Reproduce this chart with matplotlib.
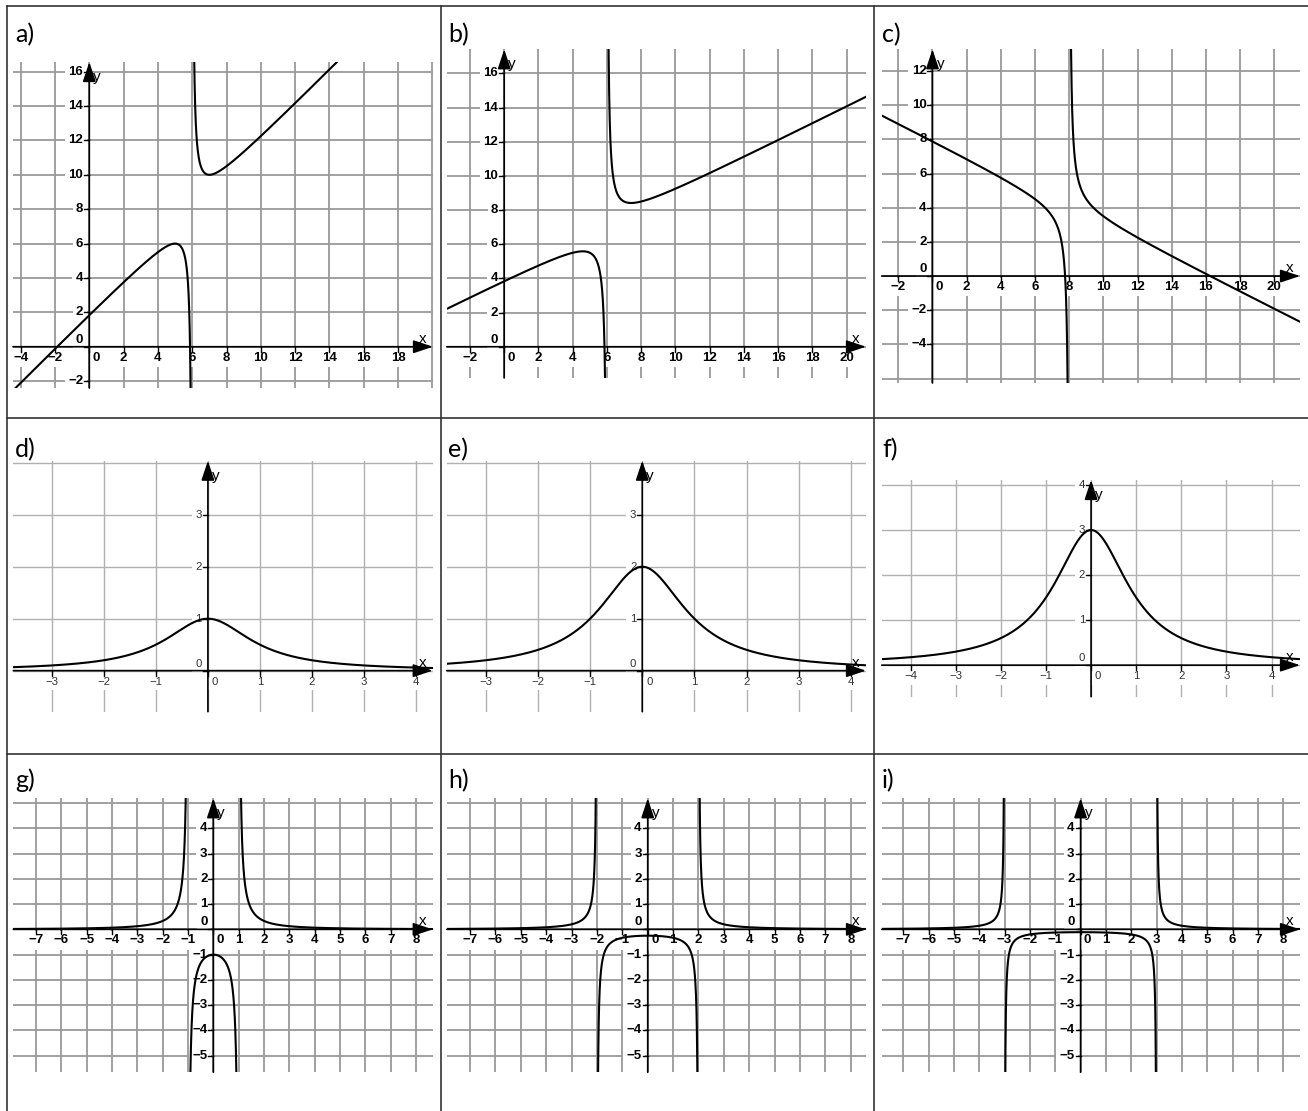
import numpy as np
import matplotlib.pyplot as plt
from matplotlib.lines import Line2D

W, H = 1308, 1111

# a) - c): y = m*x + n + 1/(x - p)   (Extrempunkte aus dem Bild abgelesen)
slopes = [1.0, 0.5, -0.5]
intercepts = [2.0, 4.0, 8.0]
poles_abc = [6.0, 6.0, 8.0]
# d) - f): y = k / (1 + x^2)
bell_heights = [1.0, 2.0, 3.0]
# g) - i): y = 1 / (x^2 - p^2)
poles_ghi = [1.0, 2.0, 3.0]

panel_names = ['a)', 'b)', 'c)', 'd)', 'e)', 'f)', 'g)', 'h)', 'i)']
x_ticks = [list(range(-4, 19, 2)), list(range(-2, 21, 2)), list(range(-2, 21, 2)),
           list(range(-3, 5)), list(range(-3, 5)), list(range(-4, 5)),
           list(range(-7, 9)), list(range(-7, 9)), list(range(-7, 9))]
y_ticks = [list(range(-2, 17, 2)), list(range(0, 17, 2)), list(range(-4, 13, 2)),
           list(range(0, 4)), list(range(0, 4)), list(range(0, 5)),
           list(range(-5, 5)), list(range(-5, 5)), list(range(-5, 5))]
grid_steps = [2, 2, 2, 1, 1, 1, 1, 1, 1]

# Layout: Pixel-Rechteck (links, oben, rechts, unten) und Achsenbereiche
rects = [(13, 62, 433, 388), (446.7, 49.3, 866, 378), (881.7, 49.3, 1300, 383),
         (13.3, 460.7, 432.7, 711.7), (446.7, 460.7, 866, 711.7), (881.7, 480, 1300, 696.7),
         (13.3, 798.3, 432.7, 1072.3), (446.7, 798.3, 866, 1072.3), (881.7, 798.3, 1300, 1072.3)]
xlims = [(-4.45, 20.04), (-3.36, 21.13), (-2.97, 21.5),
         (-3.74, 4.32), (-3.75, 4.29), (-4.64, 4.63),
         (-7.9, 8.66), (-7.92, 8.6), (-7.85, 8.66)]
ylims = [(-2.4, 16.56), (-1.83, 17.41), (-6.26, 13.27),
         (-0.79, 4.04), (-0.79, 4.04), (-0.70, 4.11),
         (-5.66, 5.19), (-5.66, 5.19), (-5.66, 5.19)]
label_pos = [(15, 42), (448, 42), (882, 42),
             (15, 457), (448, 457), (882, 457),
             (15, 788), (448, 788), (882, 788)]

PX = 0.72  # 1 px in pt bei dpi 100


def curve(k, x):
    if k < 3:
        return slopes[k] * x + intercepts[k] + 1.0 / (x - poles_abc[k])
    if k < 6:
        return bell_heights[k - 3] / (1 + x ** 2)
    p = poles_ghi[k - 6]
    return 1.0 / (x ** 2 - p ** 2)


def breaks(k):
    if k < 3:
        return [poles_abc[k]]
    if k < 6:
        return []
    return [-poles_ghi[k - 6], poles_ghi[k - 6]]


def fmt(v):
    return str(v) if v >= 0 else '\u2212' + str(-v)


fig = plt.figure(figsize=(W / 100, H / 100), dpi=100)

# Tabellenlinien
tab = dict(color='#333333', lw=1.2, transform=fig.transFigure)
for xp in [7, 441, 874]:
    fig.add_artist(Line2D([xp / W, xp / W], [1 - 6 / H, 0], **tab))
for yp in [6, 418, 754]:
    fig.add_artist(Line2D([7 / W, 1], [1 - yp / H, 1 - yp / H], **tab))

for k in range(9):
    l, t, r, b = rects[k]
    ax = fig.add_axes([l / W, 1 - b / H, (r - l) / W, (b - t) / H])
    x0, x1 = xlims[k]
    y0, y1 = ylims[k]
    ax.set_xlim(x0, x1)
    ax.set_ylim(y0, y1)
    ax.axis('off')
    bold = k not in (3, 4, 5)
    sx = (r - l) / (x1 - x0)
    sy = (b - t) / (y1 - y0)

    # Gitter
    st = grid_steps[k]
    gcol = '#9a9a9a' if bold else '#b0b0b0'
    glw = 1.3 if bold else 1.0
    for v in np.arange(np.ceil(x0 / st) * st, x1 + 1e-9, st):
        ax.axvline(v, color=gcol, lw=glw, zorder=1)
    for v in np.arange(np.ceil(y0 / st) * st, y1 + 1e-9, st):
        ax.axhline(v, color=gcol, lw=glw, zorder=1)

    # Achsen mit Pfeilen
    ax.annotate('', xy=(x1, 0), xytext=(x0, 0), zorder=3,
                arrowprops=dict(arrowstyle='-|>,head_length=0.6,head_width=0.2',
                                color='black', lw=1.2, mutation_scale=20,
                                shrinkA=0, shrinkB=0))
    ax.annotate('', xy=(0, y1), xytext=(0, y0), zorder=3,
                arrowprops=dict(arrowstyle='-|>,head_length=0.6,head_width=0.2',
                                color='black', lw=1.2, mutation_scale=20,
                                shrinkA=0, shrinkB=0))
    ax.annotate('x', xy=(x1, 0), xytext=(-10 * PX, 8 * PX), textcoords='offset points',
                ha='center', va='center', fontsize=11, family='Liberation Sans', zorder=3)
    ax.annotate('y', xy=(0, y1), xytext=(4 * PX, -15 * PX), textcoords='offset points',
                ha='left', va='center', fontsize=11, family='Liberation Sans', zorder=3)

    # Beschriftung
    fs = 9.5 if bold else 8.2
    fw = 'bold' if bold else 'normal'
    tcol = 'black' if bold else '#333333'
    box = dict(fc='white', ec='none', pad=2.5)
    for v in x_ticks[k]:
        ax.plot([v, v], [0, -5 / sy], color='black', lw=1, zorder=3)
        dx = 7 if v == 0 else 0
        ax.annotate(fmt(v), xy=(v, 0), xytext=(dx * PX, -11 * PX), textcoords='offset points',
                    ha='center', va='center', fontsize=fs, fontweight=fw, color=tcol,
                    family='Liberation Sans', bbox=box, zorder=2)
    for v in y_ticks[k]:
        ax.plot([0, -5 / sx], [v, v], color='black', lw=1, zorder=3)
        dy = 7 if v == 0 else 0
        ax.annotate(fmt(v), xy=(0, v), xytext=(-6 * PX, dy * PX), textcoords='offset points',
                    ha='right', va='center', fontsize=fs, fontweight=fw, color=tcol,
                    family='Liberation Sans', bbox=box, zorder=2)

    # Funktionsgraph
    pts = [x0 - 1] + breaks(k) + [x1 + 1]
    for a, c in zip(pts[:-1], pts[1:]):
        xs = np.linspace(a + 1e-4, c - 1e-4, 20000)
        ax.plot(xs, curve(k, xs), color='black', lw=1.5, zorder=4)

    lx, ly = label_pos[k]
    fig.text(lx / W, 1 - ly / H, panel_names[k], fontsize=18, family='Lato',
             ha='left', va='baseline')

fig.savefig('out.png', dpi=100, facecolor='white')
